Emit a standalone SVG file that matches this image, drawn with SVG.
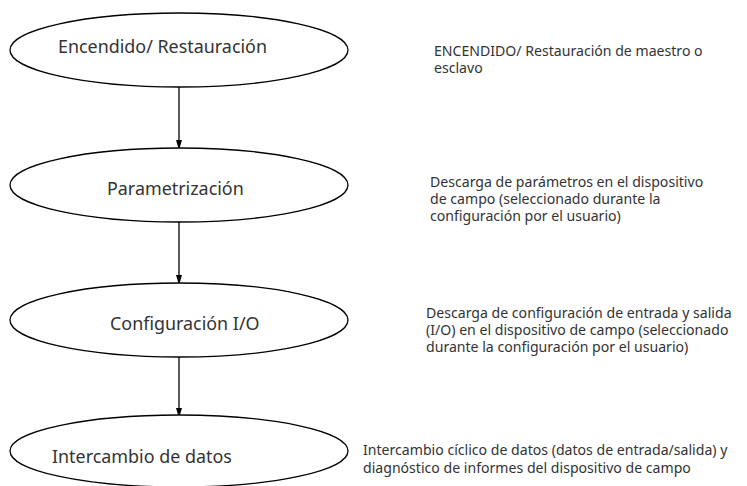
<svg xmlns="http://www.w3.org/2000/svg" width="747" height="486" viewBox="0 0 747 486">
<style>
.node{fill:#fff;stroke:#000;stroke-width:1.3}
.lbl{font-family:"Noto Sans","Open Sans",sans-serif;font-size:17.9px;fill:#333}
.desc{font-family:"Noto Sans","Open Sans",sans-serif;font-size:14.1px;fill:#333}
.edge{stroke:#000;stroke-width:1.3;fill:none}
</style>
<defs>
<marker id="arr" markerWidth="10" markerHeight="16" refX="9" refY="5" orient="auto" markerUnits="userSpaceOnUse" viewBox="0 0 15 10">
<path d="M0,0.5 L15,5 L0,9.5 Z" fill="#000"/>
</marker>
</defs>
<rect width="747" height="486" fill="#fff"/>
<g id="connectors">
<path class="edge" d="M179,87 V146" marker-end="url(#arr)"/>
<path class="edge" d="M179,222 V281" marker-end="url(#arr)"/>
<path class="edge" d="M179,357 V414" marker-end="url(#arr)"/>
</g>
<g id="n1">
<ellipse class="node" cx="179" cy="50" rx="169" ry="37"/>
<text class="lbl" x="58" y="53">Encendido/ Restauración</text>
</g>
<g id="n2">
<ellipse class="node" cx="179" cy="185" rx="169" ry="37"/>
<text class="lbl" x="107" y="195">Parametrización</text>
</g>
<g id="n3">
<ellipse class="node" cx="179" cy="320" rx="169" ry="37"/>
<text class="lbl" x="110" y="330">Configuración I/O</text>
</g>
<g id="n4">
<ellipse class="node" cx="179" cy="451" rx="169" ry="36"/>
<text class="lbl" x="52" y="463">Intercambio de datos</text>
</g>
<g id="d1">
<text class="desc" x="434" y="56">ENCENDIDO/ Restauración de maestro o</text>
<text class="desc" x="434" y="73">esclavo</text>
</g>
<g id="d2">
<text class="desc" x="430" y="187">Descarga de parámetros en el dispositivo</text>
<text class="desc" x="430" y="204">de campo (seleccionado durante la</text>
<text class="desc" x="430" y="221">configuración por el usuario)</text>
</g>
<g id="d3">
<text class="desc" x="426" y="318">Descarga de configuración de entrada y salida</text>
<text class="desc" x="426" y="335">(I/O) en el dispositivo de campo (seleccionado</text>
<text class="desc" x="426" y="352">durante la configuración por el usuario)</text>
</g>
<g id="d4">
<text class="desc" x="363" y="455">Intercambio cíclico de datos (datos de entrada/salida) y</text>
<text class="desc" x="363" y="473">diagnóstico de informes del dispositivo de campo</text>
</g>
</svg>
